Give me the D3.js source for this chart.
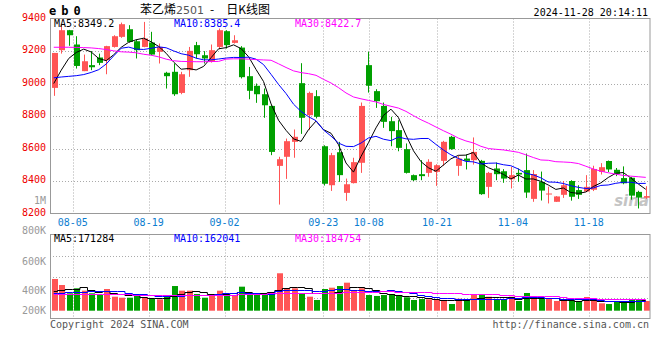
<!DOCTYPE html>
<html>
<head>
<meta charset="utf-8">
<script src="https://cdn.jsdelivr.net/npm/d3@7"></script>
<style>
body { margin: 0; background: #fff; }
svg text { font-family: "DejaVu Sans Mono", monospace; font-size: 10px; }
</style>
</head>
<body>
<script>
var w = 660, h = 360;
var plot = {left: 50, right: 649.5, top: 18.5, bottom: 213.5};
var vol = {top: 234.5, bottom: 318.5, base: 310.7};

// trading days shown (07-31 .. 11-28)
var dates = ["07-31","08-01","08-02",
  "08-05","08-06","08-07","08-08","08-09","08-12","08-13","08-14","08-15","08-16",
  "08-19","08-20","08-21","08-22","08-23","08-26","08-27","08-28","08-29","08-30",
  "09-02","09-03","09-04","09-05","09-06","09-09","09-10","09-11","09-12","09-13",
  "09-18","09-19","09-20","09-23","09-24","09-25","09-26","09-27","09-30",
  "10-08","10-09","10-10","10-11","10-14","10-15","10-16","10-17","10-18",
  "10-21","10-22","10-23","10-24","10-25","10-28","10-29","10-30","10-31","11-01",
  "11-04","11-05","11-06","11-07","11-08","11-11","11-12","11-13","11-14","11-15",
  "11-18","11-19","11-20","11-21","11-22","11-25","11-26","11-27","11-28"];

var opens  = [8973,9205,9328,9240,9076,9113,9160,9143,9225,9287,
              9334,9260,9225,9252,9195,9066,9072,8942,9082,9236,
              9174,9133,9225,9322,9250,9221,9045,8986,8934,8862,
              8493,8549,8641,9002,8805,8922,8614,8374,8577,8327,
              8387,8512,9113,8953,8862,8768,8713,8596,8436,8442,
              8450,8456,8524,8672,8493,8538,8528,8524,8364,8477,
              8460,8411,8450,8467,8290,8395,8318,8272,8315,8400,
              8344,8335,8346,8456,8523,8469,8418,8420,8333,8297];
var highs  = [9188,9363,9330,9291,9178,9199,9184,9232,9297,9375,
              9359,9271,9379,9318,9246,9072,9123,9072,9225,9256,
              9199,9240,9338,9328,9297,9230,9102,9000,8969,8866,
              8549,8661,8717,9125,8950,8959,8620,8573,8641,8415,
              8543,8883,9195,8965,8883,8795,8774,8631,8440,8528,
              8534,8503,8647,8678,8555,8563,8668,8530,8456,8514,
              8473,8487,8477,8569,8467,8458,8365,8307,8400,8405,
              8374,8436,8494,8510,8526,8480,8490,8425,8340,8368];
var lows   = [8924,9184,9232,9092,9076,9082,9113,9057,9221,9281,
              9252,9154,9223,9174,9123,8969,8924,8934,9041,9154,
              9123,9129,9211,9215,9246,9031,8903,8881,8789,8559,
              8255,8413,8543,8690,8713,8785,8372,8339,8395,8278,
              8385,8450,8944,8850,8727,8614,8583,8446,8400,8405,
              8426,8370,8493,8592,8432,8471,8501,8315,8296,8405,
              8389,8354,8395,8296,8272,8280,8262,8272,8296,8279,
              8290,8331,8338,8440,8455,8430,8380,8285,8231,8290];
var closes = [9188,9328,9297,9108,9137,9100,9127,9230,9291,9365,
              9256,9205,9277,9178,9225,9045,8934,9057,9201,9180,
              9154,9205,9328,9236,9266,9039,8955,8934,8866,8579,
              8534,8645,8672,8789,8942,8795,8383,8559,8436,8380,
              8516,8862,8986,8891,8764,8707,8604,8450,8405,8430,
              8518,8497,8641,8596,8538,8524,8579,8319,8450,8442,
              8415,8436,8440,8329,8443,8341,8323,8305,8374,8303,
              8315,8364,8474,8485,8471,8444,8386,8310,8298,8307];
var volumes = [532000,431000,292000,376000,336000,292000,263000,364000,235000,218000,
               218000,247000,218000,196000,191000,252000,414000,336000,336000,280000,
               218000,263000,336000,263000,263000,403000,275000,275000,275000,314000,
               628000,376000,376000,292000,235000,180000,364000,386000,414000,470000,
               347000,376000,263000,247000,263000,280000,247000,225000,180000,196000,
               191000,180000,180000,112000,201000,196000,275000,275000,235000,191000,
               191000,235000,163000,297000,196000,196000,196000,163000,163000,163000,
               163000,230000,163000,124000,112000,151000,151000,196000,196000,163000];

// moving-average values before a full window is on screen
var ma5Head  = [9000,9082,9154,9191];
var ma10Head = [9035,9040,9044,9048,9055,9068,9085,9120,9170];
var ma30Head = [9223,9223,9223,9222,9221,9219,9215,9209,9201,9195,
                9193,9189,9180,9174,9164,9150,9140,9136,9135,9134,
                9134,9135,9136,9150,9152,9152,9150,9147,9145];
var volMa5Head  = [336000,355000,362000,370000];
var volMa10Head = [300000,305000,310000,315000,320000,325000,330000,333000,335000];
var volMa30Head = [275000,275000,276000,276000,277000,277000,277000,276000,275000,274000,
                   272000,270000,268000,265000,262000,260000,260000,260000,261000,262000,
                   262000,263000,265000,268000,270000,274000,278000,282000,288000];

var priceTicks = [8200,8400,8600,8800,9000,9200,9400];
var volTicks = [200000,400000,600000,800000];
var volTickLabels = ["200K","400K","600K","800K"];
var dateTicks = ["08-05","08-19","09-02","09-23","10-08","10-21","11-04","11-18"];
var maLabels = ["MA5:8349.2","MA10:8385.4","MA30:8422.7"];
var volMaLabels = ["MA5:171284","MA10:162041","MA30:184754"];
var maColors = ["#000000","#0000ff","#ff00ff"];

var upColor = "#ff5555", downColor = "#00a000";
var gridColor = "#aaaaaa", borderColor = "#999999";

var svg = d3.select("body")
            .append("svg")
            .attr("width", w)
            .attr("height", h);

var x = d3.scaleBand()
          .domain(d3.range(dates.length))
          .range([plot.left, plot.right])
          .paddingInner(0.2)
          .paddingOuter(0.1);
var xGrid = d3.scaleLinear()
          .domain([0, dates.length - 1])
          .range([plot.left, plot.right]);
var y = d3.scaleLinear()
          .domain([8200, 9400])
          .range([plot.bottom, plot.top]);
var yVol = d3.scaleLinear()
          .domain([0, 1000000])
          .range([vol.base, vol.base - 59.6]);
var yVolLabel = d3.scaleLinear()
          .domain(volTicks)
          .range([310, 290.3, 261, 230.7]);

function cx(i){ return x(i) + x.bandwidth()/2; }

function movingAvg(vals, n, head){
    return vals.map(function(d, i){
        if (i < n - 1) return head[i];
        return d3.mean(vals.slice(i - n + 1, i + 1));
    });
}

var dateIdx = dateTicks.map(function(d){ return dates.indexOf(d); });

// ---------- grids ----------
var grid = svg.append("g").attr("stroke", gridColor).attr("stroke-dasharray", "1,2");
grid.selectAll("line.hgrid")
    .data(priceTicks.slice(1, -1))
    .enter().append("line")
    .attr("x1", plot.left).attr("x2", plot.right)
    .attr("y1", function(d){ return Math.round(y(d)) + 0.5; })
    .attr("y2", function(d){ return Math.round(y(d)) + 0.5; });
grid.selectAll("line.vgrid")
    .data(dateIdx)
    .enter().append("line")
    .attr("x1", function(d){ return Math.round(xGrid(d)) + 0.5; })
    .attr("x2", function(d){ return Math.round(xGrid(d)) + 0.5; })
    .attr("y1", plot.top).attr("y2", plot.bottom);
grid.selectAll("line.vgrid2")
    .data(dateIdx)
    .enter().append("line")
    .attr("x1", function(d){ return Math.round(xGrid(d)) + 0.5; })
    .attr("x2", function(d){ return Math.round(xGrid(d)) + 0.5; })
    .attr("y1", vol.top).attr("y2", vol.bottom);
grid.selectAll("line.vhgrid")
    .data([1, 2, 3])
    .enter().append("line")
    .attr("x1", plot.left).attr("x2", plot.right)
    .attr("y1", function(d){ return Math.round(vol.top + d*(vol.bottom - vol.top)/4) + 0.5; })
    .attr("y2", function(d){ return Math.round(vol.top + d*(vol.bottom - vol.top)/4) + 0.5; });

// watermark
svg.append("circle")
    .attr("cx", 632).attr("cy", 190).attr("r", 3.5)
    .attr("fill", "#f3b7b7");
svg.append("text")
    .attr("x", 649).attr("y", 206)
    .attr("text-anchor", "end")
    .style("font-family", "'DejaVu Sans', sans-serif")
    .style("font-size", "15px")
    .style("font-style", "italic")
    .style("font-weight", "bold")
    .attr("fill", "#c4c4c4")
    .text("sina");

// ---------- candles ----------
var candles = svg.append("g")
    .selectAll("g")
    .data(dates)
    .enter().append("g")
    .attr("fill", function(d, i){ return closes[i] >= opens[i] ? upColor : downColor; })
    .attr("stroke", function(d, i){ return closes[i] >= opens[i] ? upColor : downColor; });

candles.append("line")
    .attr("x1", function(d, i){ return Math.round(cx(i)) + 0.5; })
    .attr("x2", function(d, i){ return Math.round(cx(i)) + 0.5; })
    .attr("y1", function(d, i){ return y(highs[i]); })
    .attr("y2", function(d, i){ return y(lows[i]); });

candles.append("rect")
    .attr("stroke", "none")
    .attr("x", function(d, i){ return Math.round(cx(i)) - 2; })
    .attr("width", 6)
    .attr("y", function(d, i){ return y(Math.max(opens[i], closes[i])); })
    .attr("height", function(d, i){
        return Math.max(1, y(Math.min(opens[i], closes[i])) - y(Math.max(opens[i], closes[i])));
    });

// ---------- price MAs ----------
var priceMAs = [movingAvg(closes, 5, ma5Head), movingAvg(closes, 10, ma10Head), movingAvg(closes, 30, ma30Head)];
var priceLine = d3.line()
    .x(function(d, i){ return cx(i); })
    .y(function(d){ return y(d); });
svg.append("g").selectAll("path")
    .data(priceMAs)
    .enter().append("path")
    .attr("fill", "none")
    .attr("stroke-width", 1)
    .attr("stroke", function(d, i){ return maColors[i]; })
    .attr("d", priceLine);

// ---------- volume ----------
svg.append("g").selectAll("rect")
    .data(volumes)
    .enter().append("rect")
    .attr("x", function(d, i){ return Math.round(cx(i)) - 2; })
    .attr("width", 6)
    .attr("y", function(d){ return yVol(d); })
    .attr("height", function(d){ return vol.base - yVol(d); })
    .attr("fill", function(d, i){ return closes[i] >= opens[i] ? upColor : downColor; });

var volMAs = [movingAvg(volumes, 5, volMa5Head), movingAvg(volumes, 10, volMa10Head), movingAvg(volumes, 30, volMa30Head)];
var volLine = d3.line()
    .curve(d3.curveStep)
    .x(function(d, i){ return cx(i); })
    .y(function(d){ return Math.round(yVol(d)) + 0.5; });
svg.append("g").selectAll("path")
    .data(volMAs)
    .enter().append("path")
    .attr("fill", "none")
    .attr("stroke-width", 1)
    .attr("stroke", function(d, i){ return maColors[i]; })
    .attr("d", volLine);

// ---------- borders ----------
svg.append("rect")
    .attr("x", plot.left + 0.5).attr("y", plot.top)
    .attr("width", plot.right - plot.left).attr("height", plot.bottom - plot.top)
    .attr("fill", "none").attr("stroke", borderColor);
svg.append("rect")
    .attr("x", plot.left + 0.5).attr("y", vol.top)
    .attr("width", plot.right - plot.left).attr("height", vol.bottom - vol.top)
    .attr("fill", "none").attr("stroke", borderColor);

// ---------- axis labels ----------
svg.append("g").selectAll("text")
    .data(priceTicks)
    .enter().append("text")
    .attr("x", 46).attr("y", function(d){ return y(d) + 2; })
    .attr("text-anchor", "end")
    .attr("fill", "#ee0000")
    .text(function(d){ return d; });

svg.append("text")
    .attr("x", 46).attr("y", 204)
    .attr("text-anchor", "end")
    .attr("fill", "#999")
    .text("1M");

svg.append("g").selectAll("text")
    .data(volTicks)
    .enter().append("text")
    .attr("x", 46).attr("y", function(d){ return yVolLabel(d) + 3.5; })
    .attr("text-anchor", "end")
    .attr("fill", "#999")
    .text(function(d, i){ return volTickLabels[i]; });

svg.append("g").selectAll("text")
    .data(dateTicks)
    .enter().append("text")
    .attr("x", function(d, i){ return xGrid(dateIdx[i]); })
    .attr("y", 225.5)
    .attr("text-anchor", "middle")
    .attr("fill", "#0b7dd0")
    .text(function(d){ return d; });

// ---------- MA legends ----------
var legendX = [54, 174, 295];
svg.append("g").selectAll("text")
    .data(maLabels)
    .enter().append("text")
    .attr("x", function(d, i){ return legendX[i]; })
    .attr("y", 27)
    .attr("fill", function(d, i){ return maColors[i]; })
    .text(function(d){ return d; });
svg.append("g").selectAll("text")
    .data(volMaLabels)
    .enter().append("text")
    .attr("x", function(d, i){ return legendX[i]; })
    .attr("y", 242)
    .attr("fill", function(d, i){ return maColors[i]; })
    .text(function(d){ return d; });

// ---------- header / footer ----------
svg.append("text")
    .attr("x", 49).attr("y", 15)
    .style("font-size", "12px")
    .style("font-weight", "bold")
    .style("letter-spacing", "5px")
    .text("eb0");

var title = svg.append("text")
    .attr("x", 140).attr("y", 14)
    .style("font-family", "'Noto Sans CJK SC', sans-serif")
    .style("font-size", "12px");
title.append("tspan").text("苯乙烯");
title.append("tspan")
    .attr("fill", "#555")
    .style("font-family", "'DejaVu Sans', sans-serif")
    .style("font-size", "11px")
    .text("2501");
title.append("tspan").attr("dx", 6).text("-");
title.append("tspan").attr("dx", 12).text("日K线图");

svg.append("text")
    .attr("x", 648).attr("y", 15.5)
    .attr("text-anchor", "end")
    .text("2024-11-28 20:14:11");

svg.append("text")
    .attr("x", 50).attr("y", 327.5)
    .attr("fill", "#555")
    .text("Copyright 2024 SINA.COM");
svg.append("text")
    .attr("x", 649).attr("y", 327.5)
    .attr("text-anchor", "end")
    .attr("fill", "#555")
    .text("http://finance.sina.com.cn");
</script>
</body>
</html>
